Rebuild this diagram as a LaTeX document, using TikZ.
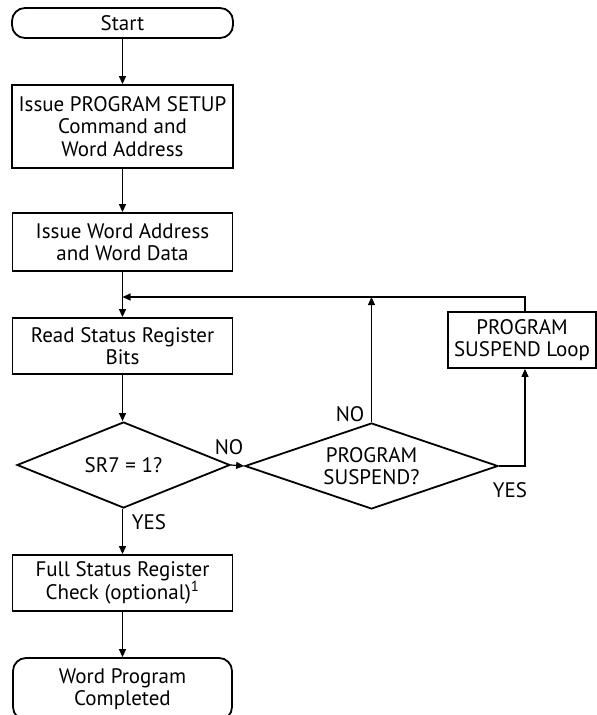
\documentclass[tikz,border=0pt]{standalone}
\usepackage{fontspec}
\setmainfont{PT Sans}
\usetikzlibrary{shapes.geometric,arrows.meta}
\begin{document}
\begin{tikzpicture}[x=1pt,y=-1pt,
  every node/.style={font=\fontsize{21}{22.5}\selectfont, align=center, inner sep=0pt},
  proc/.style={draw, line width=1.8pt, rectangle},
  term/.style={draw, line width=1.8pt, rectangle, rounded corners=13pt},
  dec/.style={draw, line width=1.8pt, diamond},
  lbl/.style={},
  conn/.style={line width=1.2pt, -{Triangle[length=8pt,width=7pt]}},
  plain/.style={line width=1.2pt}]
\useasboundingbox (0,0) rectangle (597,715);
\node[term, minimum width=221pt, minimum height=30pt] (start) at (122.5,23) {Start};
\node[proc, minimum width=221pt, minimum height=83pt] (b1) at (122.5,126.5) {Issue PROGRAM SETUP\\Command and\\Word Address};
\node[proc, minimum width=220pt, minimum height=58pt] (b2) at (122.5,242) {Issue Word Address\\and Word Data};
\node[proc, minimum width=220pt, minimum height=56pt] (b3) at (122.5,346) {Read Status Register\\Bits};
\node[dec, aspect=2.5, minimum width=213pt, minimum height=86pt] (d1) at (123.5,465) {SR7 = 1?};
\node[dec, aspect=2.94, minimum width=253pt, minimum height=86pt] (d2) at (371.5,466) {PROGRAM\\SUSPEND?};
\node[proc, minimum width=148pt, minimum height=56pt] (loop) at (522,340) {PROGRAM\\SUSPEND Loop};
\node[proc, minimum width=220pt, minimum height=56pt] (b4) at (122.5,583) {Full Status Register\\Check (optional)\textsuperscript{1}};
\node[term, minimum width=219pt, minimum height=62pt] (end) at (122.5,689) {Word Program\\Completed};
\coordinate (m) at (122.5,297);
\coordinate (c) at (525,466);
\coordinate (top) at (525,297);
\node[lbl] (no1) at (229,447) {NO};
\node[lbl] (no2) at (350,414) {NO};
\node[lbl] (yes1) at (510,490) {YES};
\node[lbl] (yes2) at (149,522) {YES};
\draw[conn] (start) -- (b1);
\draw[conn] (b1) -- (b2);
\draw[conn] (b2) -- (b3);
\draw[conn] (b3) -- (b3.south |- d1.north);
\draw[conn] (b3.south |- d1.south) -- (b4);
\draw[conn] (b4) -- (end);
\draw[conn] (d1.east) -- (d2.west);
\draw[conn] (d2.north) -- (d2.north |- m);
\draw[conn] (d2.east) -- (c) -- (c |- loop.south);
\draw[conn] (c |- loop.north) -- (top) -- (m);
\end{tikzpicture}
\end{document}
